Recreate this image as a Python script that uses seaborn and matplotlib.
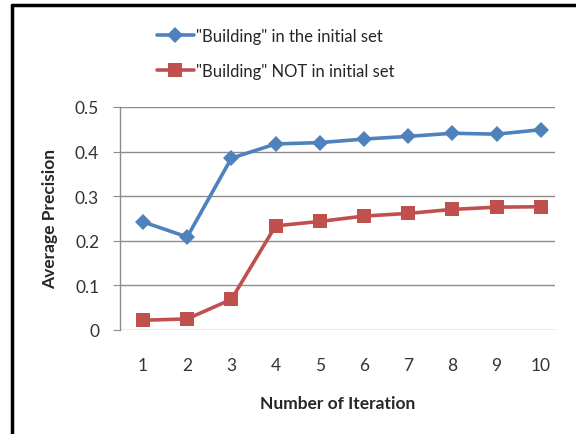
import numpy as np
import pandas as pd
import matplotlib.pyplot as plt
import seaborn as sns

iteration = [1, 2, 3, 4, 5, 6, 7, 8, 9, 10]
in_initial = [0.242, 0.208, 0.385, 0.417, 0.420, 0.428, 0.434, 0.441, 0.439, 0.449]
not_initial = [0.021, 0.024, 0.068, 0.233, 0.243, 0.255, 0.261, 0.270, 0.275, 0.276]
labels = ['"Building" in the initial set', '"Building" NOT in initial set']

df = pd.DataFrame({
    'Iteration': iteration * 2,
    'Precision': in_initial + not_initial,
    'Series': [labels[0]] * 10 + [labels[1]] * 10,
})

sns.set_style('white')
plt.rcParams['font.family'] = ['Lato', 'DejaVu Sans']

fig = plt.figure(figsize=(5.76, 4.35), dpi=100)
ax = fig.add_axes([120 / 576, 1 - 330.6 / 435, 435 / 576, 222.6 / 435])

sns.lineplot(data=df, x='Iteration', y='Precision', hue='Series', style='Series',
             palette=['#4F81BD', '#C0504D'], markers=['D', 's'], dashes=False,
             markersize=9, linewidth=2.6, markeredgewidth=0, ax=ax, legend=False)
# diamond marker a bit smaller than the square
ax.lines[0].set_markersize(8)
ax.lines[1].set_markersize(10)

ax.set_xlim(0.48, 10.32)
ax.set_ylim(0, 0.5)
ax.set_yticks([0, 0.1, 0.2, 0.3, 0.4, 0.5])
ax.set_yticklabels(['0', '0.1', '0.2', '0.3', '0.4', '0.5'])
ax.set_xticks(iteration)
ax.yaxis.grid(True, color='#8c8c8c', linewidth=1)
ax.set_axisbelow(True)
for s in ['top', 'right', 'bottom']:
    ax.spines[s].set_visible(False)
ax.spines['left'].set_color('#8c8c8c')
ax.spines['left'].set_linewidth(1)
ax.tick_params(axis='y', left=True, length=5, color='#8c8c8c', labelsize=12.5, pad=10, labelcolor='#333333')
ax.tick_params(axis='x', bottom=False, labelsize=12.5, pad=16, labelcolor='#333333')
ax.set_xlabel('Number of Iteration', fontsize=12.5, fontweight='bold', labelpad=16)
ax.set_ylabel('Average Precision', fontsize=12.5, fontweight='bold', labelpad=12)

handles = ax.lines[:2]
fig.legend(handles, labels, loc='upper left', bbox_to_anchor=(142 / 576, 1 - 14 / 435),
           frameon=False, fontsize=12, labelspacing=1.15, handlelength=2.2, handletextpad=0.15)

# chart border (left and top edges)
fig.add_artist(plt.Line2D([12 / 576, 12 / 576], [0, 1 - 6 / 435], color='black', linewidth=2.5))
fig.add_artist(plt.Line2D([12 / 576, 1], [1 - 6 / 435, 1 - 6 / 435], color='black', linewidth=2.5))

fig.savefig('out.png', dpi=100)
